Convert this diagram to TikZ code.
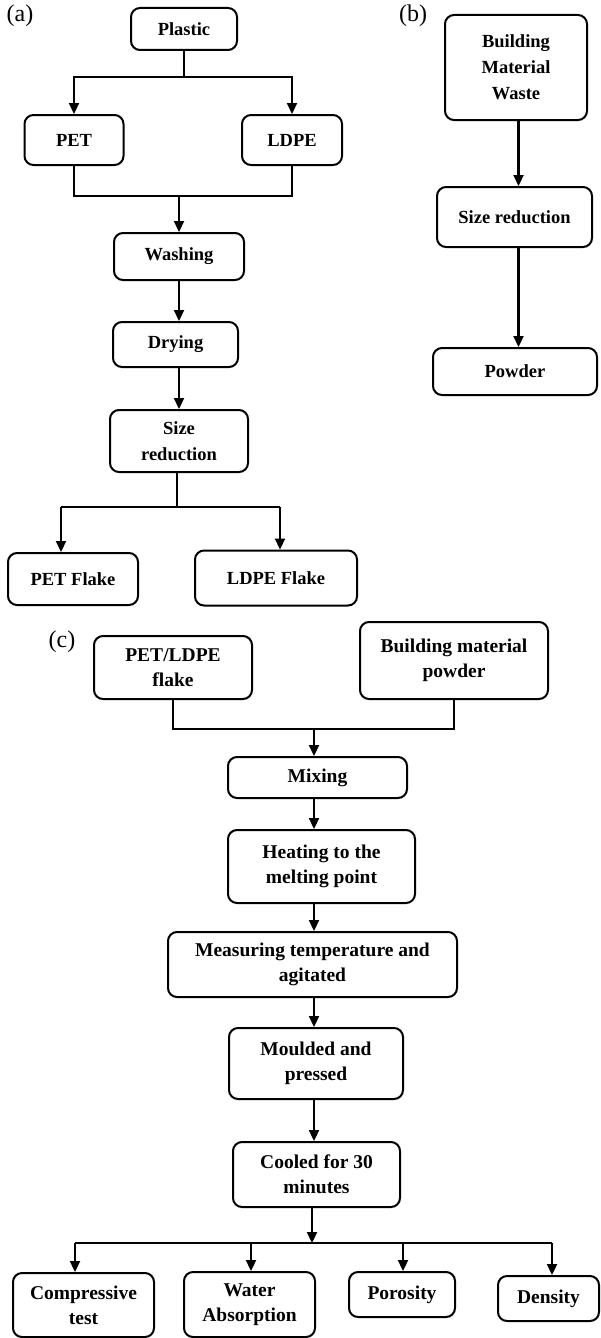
\documentclass[tikz,border=0pt]{standalone}
\usepackage{fontspec}
\setmainfont{Liberation Serif}
\usetikzlibrary{arrows.meta}
\begin{document}
\begin{tikzpicture}[x=1pt,y=-1pt,
  box/.style={draw, line width=2pt, rounded corners=9pt, inner sep=0pt, align=center,
    font=\bfseries\fontsize{18.5}{26}\selectfont},
  boxc/.style={box, font=\bfseries\fontsize{19.5}{25}\selectfont},
  ln/.style={line width=2.2pt},
  arr/.style={ln, -{Triangle[length=11pt,width=10pt]}},
  lab/.style={font=\fontsize{24}{28}\selectfont}]
\useasboundingbox (0,0) rectangle (601,1338);
\fill[white] (0,0) rectangle (601,1338);

% ---------------- (a)
\node[lab] (la) at (20,16) {(a)};
\node[box, minimum width=106pt, minimum height=42pt] (plastic) at (184,29) {Plastic};
\node[box, minimum width=99pt, minimum height=50pt] (pet) at (74,140) {PET};
\node[box, minimum width=100pt, minimum height=50pt] (ldpe) at (292,140) {LDPE};
\node[box, minimum width=130pt, minimum height=47pt] (washing) at (179,256.5) {Washing};
\node[box, minimum width=125pt, minimum height=45pt] (drying) at (175.5,344.5) {Drying};
\node[box, minimum width=138pt, minimum height=62pt] (sizered) at (179,441) {Size\\reduction};
\node[box, minimum width=130pt, minimum height=52pt] (petflake) at (73,579) {PET Flake};
\node[box, minimum width=162pt, minimum height=55pt] (ldpeflake) at (276,578) {LDPE Flake};

\coordinate (pa) at (184,77);
\draw[ln] (plastic.south) -- (pa);
\draw[arr] (pa) -| (pet.north);
\draw[arr] (pa) -| (ldpe.north);
\coordinate (pb) at (179,196);
\draw[ln] (pet.south) |- (ldpe.south |- pb) -- (ldpe.south);
\draw[arr] (pb) -- (washing.north);
\draw[arr] (washing.south) -- (washing.south |- drying.north);
\draw[arr] (sizered.north |- drying.south) -- (sizered.north);
\coordinate (pc) at (177,507);
\coordinate (pcl) at (61,507);
\coordinate (pcr) at (280,507);
\draw[ln] (pc |- sizered.south) -- (pc);
\draw[ln] (pcl) -- (pcr);
\draw[arr] (pcl) -- (pcl |- petflake.north);
\draw[arr] (pcr) -- (pcr |- ldpeflake.north);

% ---------------- (b)
\node[lab] (lb) at (413,16) {(b)};
\node[box, minimum width=142pt, minimum height=105pt] (bmw) at (516,67.5) {Building\\Material\\Waste};
\node[box, minimum width=155pt, minimum height=60pt] (sizered2) at (514.5,217) {Size reduction};
\node[box, minimum width=164pt, minimum height=47pt] (powder) at (515,371.5) {Powder};
\coordinate (bx) at (518.5,0);
\draw[arr] (bmw.south -| bx) -- (sizered2.north -| bx);
\draw[arr] (sizered2.south -| bx) -- (powder.north -| bx);

% ---------------- (c)
\node[lab] (lc) at (62,642) {(c)};
\node[boxc, minimum width=158pt, minimum height=63pt] (petldpe) at (173,667.5) {PET/LDPE\\flake};
\node[boxc, minimum width=188pt, minimum height=77pt] (bmp) at (454,660.5) {Building material\\powder};
\node[boxc, minimum width=179pt, minimum height=41pt] (mixing) at (317.5,777.5) {Mixing};
\node[boxc, minimum width=187pt, minimum height=73pt] (heating) at (321.5,866.5) {Heating to the\\melting point};
\node[boxc, minimum width=289pt, minimum height=65pt] (measuring) at (312.5,964.5) {Measuring temperature and\\agitated};
\node[boxc, minimum width=174pt, minimum height=71pt] (moulded) at (316,1063.5) {Moulded and\\pressed};
\node[boxc, minimum width=167pt, minimum height=65pt] (cooled) at (316.5,1174.5) {Cooled for 30\\minutes};
\node[boxc, minimum width=141pt, minimum height=64pt] (compressive) at (83.5,1305) {Compressive\\test};
\node[boxc, minimum width=131pt, minimum height=65pt] (water) at (249.5,1304.5) {Water\\Absorption};
\node[boxc, minimum width=106pt, minimum height=45pt] (porosity) at (402,1294.5) {Porosity};
\node[boxc, minimum width=101pt, minimum height=45pt] (density) at (548.5,1298.5) {Density};

\coordinate (cm) at (314,729);
\draw[ln] (petldpe.south) |- (bmp.south |- cm) -- (bmp.south);
\draw[arr] (cm) -- (cm |- mixing.north);
\draw[arr] (mixing.south -| cm) -- (heating.north -| cm);
\draw[arr] (heating.south -| cm) -- (measuring.north -| cm);
\draw[arr] (measuring.south -| cm) -- (moulded.north -| cm);
\draw[arr] (moulded.south -| cm) -- (cooled.north -| cm);
\coordinate (br) at (312,1243);
\draw[arr] (cooled.south -| br) -- (br);
\coordinate (b1) at (75,1243);
\coordinate (b2) at (251,1243);
\coordinate (b3) at (403,1243);
\coordinate (b4) at (552,1243);
\draw[ln] (b1) -- (b4);
\draw[arr] (b1) -- (b1 |- compressive.north);
\draw[arr] (b2) -- (b2 |- water.north);
\draw[arr] (b3) -- (b3 |- porosity.north);
\draw[arr] (b4) -- (b4 |- density.north);
\end{tikzpicture}
\end{document}
